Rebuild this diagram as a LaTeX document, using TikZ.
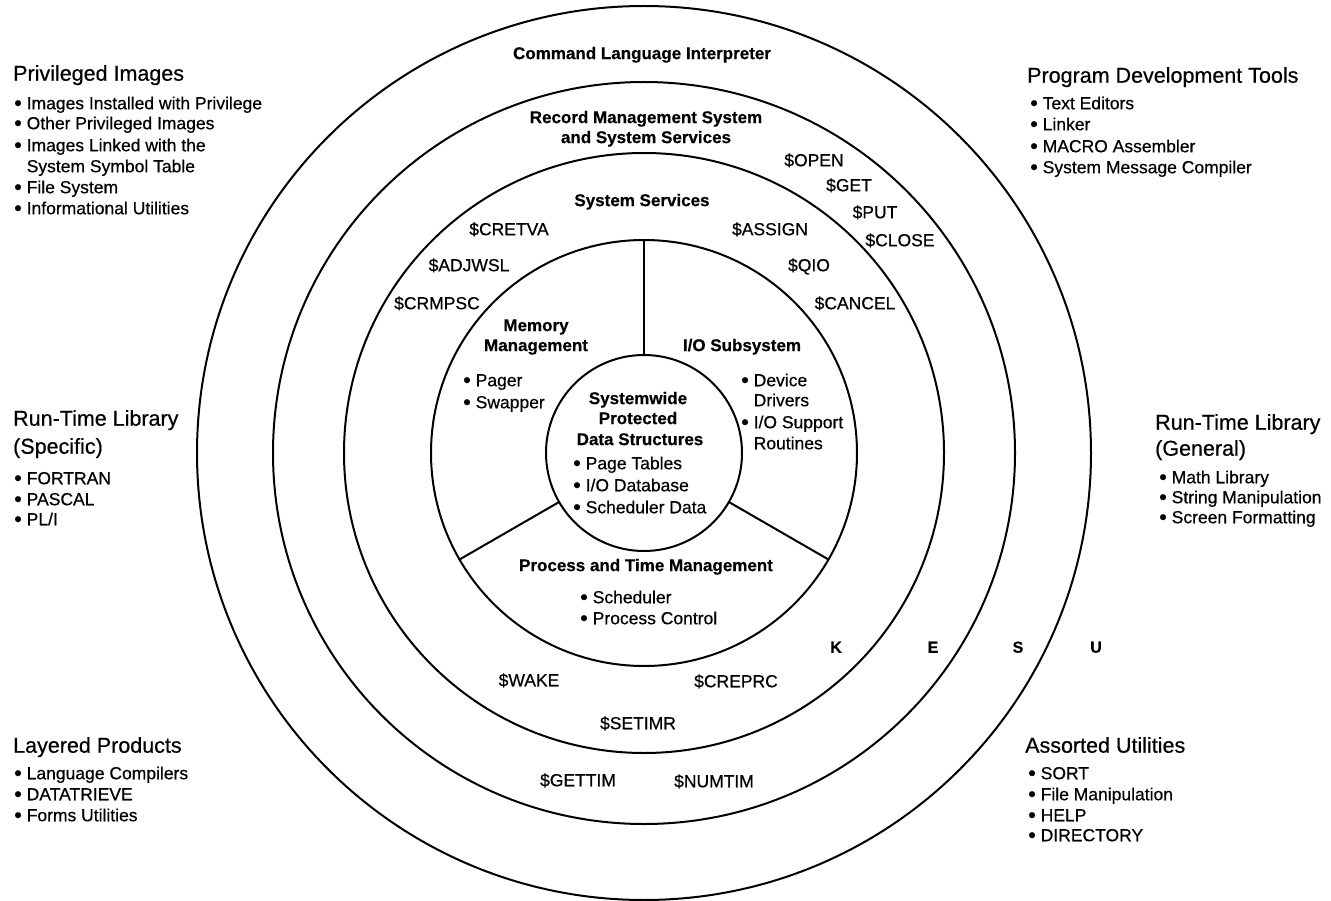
\documentclass[tikz,border=0pt]{standalone}
\usepackage{fontspec}
\setmainfont{Liberation Sans}[UprightFeatures={FakeBold=0.5},BoldFeatures={FakeBold=0.4}]
% a slightly larger list bullet, kept out of the line height
\newcommand\bul{\smash{\raisebox{-1.2pt}{\scalebox{1.25}{\textbullet}}}\ }
\begin{document}
\begin{tikzpicture}[x=1pt,y=-1pt,
  ring/.style={draw, circle, line width=2pt, inner sep=0pt, outer sep=0pt, minimum size=#1},
  divider/.style={line width=2pt},
  layer/.style={font=\bfseries\fontsize{17}{20.5}\selectfont, inner sep=0pt, text height=12.2pt, text depth=0pt},
  svc/.style={font=\fontsize{17.5}{21}\selectfont, inner sep=0pt, text height=12.5pt, text depth=0pt},
  item/.style={font=\fontsize{17.5}{21}\selectfont, inner sep=0pt, text height=12.5pt, text depth=0pt, anchor=west},
  head/.style={font=\fontsize{21.5}{27}\selectfont, inner sep=0pt, text height=15.4pt, text depth=0pt, anchor=west},
  mode/.style={font=\bfseries\fontsize{16}{19}\selectfont, inner sep=0pt, text height=11.5pt, text depth=0pt},
]
\useasboundingbox[fill=white] (0,0) rectangle (1331,901);

% concentric layers
\node[ring=894pt] (U) at (644,453) {};
\node[ring=742pt] (S) at (644,453) {};
\node[ring=600pt] (E) at (644,453) {};
\node[ring=426pt] (K) at (644,453) {};
\node[ring=196pt] (core) at (644,453) {};

% kernel sectors
\draw[divider] (core.90) -- (K.90);
\draw[divider] (core.210) -- (K.210);
\draw[divider] (core.330) -- (K.330);

% layer titles
\node[layer] (cli) at (642,53) {Command Language Interpreter};
\node[layer] (rms1) at (646,117) {Record Management System};
\node[layer] (rms2) at (646,137) {and System Services};
\node[layer] (ss) at (642,200) {System Services};
\node[layer] (mm1) at (536,325) {Memory};
\node[layer] (mm2) at (536,345) {Management};
\node[layer] (io) at (742,345) {I/O Subsystem};
\node[layer] (sw1) at (638,398) {Systemwide};
\node[layer] (sw2) at (638,418) {Protected};
\node[layer] (sw3) at (640,439) {Data Structures};
\node[layer] (ptm) at (646,565) {Process and Time Management};

% kernel contents
\node[item] (pg) at (463,380) {\bul Pager};
\node[item] (swp) at (463,402) {\bul Swapper};
\node[item] (pt) at (573,463) {\bul Page Tables};
\node[item] (iod) at (573,485) {\bul I/O Database};
\node[item] (sd) at (573,507) {\bul Scheduler Data};
\node[item] (dd1) at (741,380) {\bul Device};
\node[item] (dd2) at (741,400) {\phantom{\bul}Drivers};
\node[item] (ios1) at (741,422) {\bul I/O Support};
\node[item] (ios2) at (741,443) {\phantom{\bul}Routines};
\node[item] (sch) at (580,597) {\bul Scheduler};
\node[item] (pc) at (580,618) {\bul Process Control};

% service calls
\node[svc] (open) at (814,160) {\$OPEN};
\node[svc] (get) at (849,185) {\$GET};
\node[svc] (put) at (875,212) {\$PUT};
\node[svc] (close) at (900,240) {\$CLOSE};
\node[svc] (cretva) at (509,229) {\$CRETVA};
\node[svc] (assign) at (770,229) {\$ASSIGN};
\node[svc] (adjwsl) at (469,265) {\$ADJWSL};
\node[svc] (qio) at (809,265) {\$QIO};
\node[svc] (crmpsc) at (437,303) {\$CRMPSC};
\node[svc] (cancel) at (855,303) {\$CANCEL};
\node[svc] (wake) at (529,680) {\$WAKE};
\node[svc] (creprc) at (736,681) {\$CREPRC};
\node[svc] (setimr) at (638,723) {\$SETIMR};
\node[svc] (gettim) at (578,780) {\$GETTIM};
\node[svc] (numtim) at (714,781) {\$NUMTIM};

% access modes
\node[mode] (mk) at (836,647) {K};
\node[mode] (me) at (933,647) {E};
\node[mode] (ms) at (1018,647) {S};
\node[mode] (mu) at (1096,647) {U};

% privileged images
\node[head] (pih) at (13,73) {Privileged Images};
\node[item] (pi1) at (14,103) {\bul Images Installed with Privilege};
\node[item] (pi2) at (14,123) {\bul Other Privileged Images};
\node[item] (pi3) at (14,145) {\bul Images Linked with the};
\node[item] (pi4) at (14,166) {\phantom{\bul}System Symbol Table};
\node[item] (pi5) at (14,187) {\bul File System};
\node[item] (pi6) at (14,208) {\bul Informational Utilities};

% program development tools
\node[head] (pdh) at (1027,75) {Program Development Tools};
\node[item] (pd1) at (1030,103) {\bul Text Editors};
\node[item] (pd2) at (1030,124) {\bul Linker};
\node[item] (pd3) at (1030,146) {\bul MACRO Assembler};
\node[item] (pd4) at (1030,167) {\bul System Message Compiler};

% run-time library, specific
\node[head] (rsh1) at (13,418) {Run-Time Library};
\node[head] (rsh2) at (13,446) {(Specific)};
\node[item] (rs1) at (14,478) {\bul FORTRAN};
\node[item] (rs2) at (14,499) {\bul PASCAL};
\node[item] (rs3) at (14,519) {\bul PL/I};

% run-time library, general
\node[head] (rgh1) at (1155,422) {Run-Time Library};
\node[head] (rgh2) at (1155,448) {(General)};
\node[item] (rg1) at (1159,477) {\bul Math Library};
\node[item] (rg2) at (1159,497) {\bul String Manipulation};
\node[item] (rg3) at (1159,517) {\bul Screen Formatting};

% layered products
\node[head] (lph) at (13,745) {Layered Products};
\node[item] (lp1) at (14,773) {\bul Language Compilers};
\node[item] (lp2) at (14,794) {\bul DATATRIEVE};
\node[item] (lp3) at (14,815) {\bul Forms Utilities};

% assorted utilities
\node[head] (auh) at (1025,745) {Assorted Utilities};
\node[item] (au1) at (1028,773) {\bul SORT};
\node[item] (au2) at (1028,794) {\bul File Manipulation};
\node[item] (au3) at (1028,815) {\bul HELP};
\node[item] (au4) at (1028,835) {\bul DIRECTORY};
\end{tikzpicture}
\end{document}
